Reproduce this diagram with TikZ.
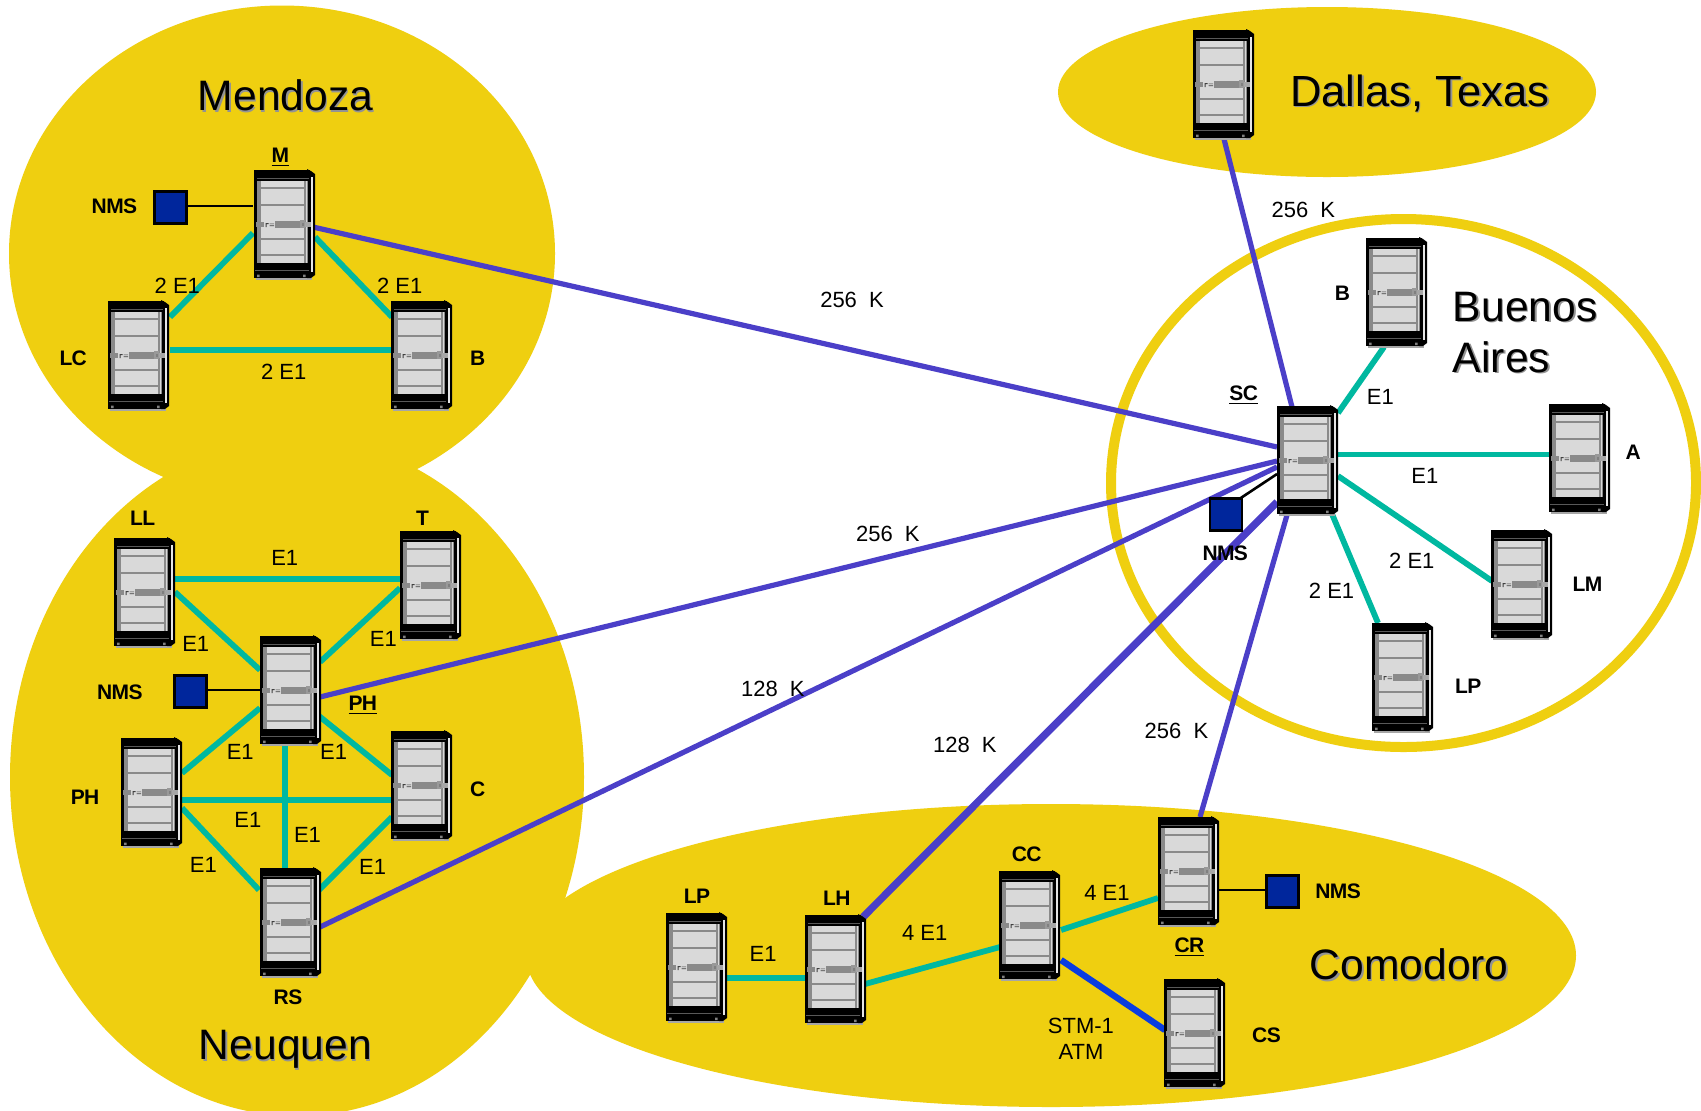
\documentclass[tikz,border=0pt]{standalone}
\usepackage{fontspec}
\setmainfont{Liberation Sans}
\newfontfamily\lblfont[LetterSpace=-3]{Liberation Sans}
\pgfdeclarelayer{ell}
\pgfdeclarelayer{lnk}
\pgfsetlayers{ell,lnk,main}
\definecolor{regionc}{HTML}{EFCF10}
\definecolor{tealc}{HTML}{00B8A0}
\definecolor{purplec}{HTML}{4B3FC8}
\definecolor{stmc}{HTML}{0A3CE0}
\definecolor{nmsc}{HTML}{00269C}
\definecolor{panelc}{HTML}{D9D9D9}
\definecolor{shelfc}{HTML}{8A8A8A}
\tikzset{
  srvbox/.style={minimum width=30pt,minimum height=55pt,inner sep=0pt,outer sep=0pt},
  nmsbox/.style={draw=black,fill=nmsc,line width=1.25pt,minimum size=16pt,inner sep=0pt,outer sep=0pt},
  e1link/.style={tealc,line width=2.9pt},
  klink/.style={purplec,line width=2.6pt},
  thicklink/.style={purplec,line width=3.7pt},
  stmlink/.style={stmc,line width=3.2pt},
  ctrl/.style={black,line width=1.3pt},
  ringc/.style={regionc,line width=5pt},
  lbl/.style={inner sep=0pt,font=\fontsize{11}{13}\selectfont,align=center},
  bold/.style={inner sep=0pt,font=\lblfont\bfseries\fontsize{10.5}{12}\selectfont},
  ttlstyle/.style={inner sep=0pt,font=\fontsize{21.3}{25.5}\selectfont,align=left},
}
% server: name, top-left x, top-left y (reference pixels)
\newcommand{\srv}[3]{%
  \node[srvbox] (#1) at (#2+30,#3+55) {};
  \begin{scope}[shift={(#2,#3)}]
    \fill[gray!70] (2,106) rectangle (58,110);
    \fill[black] (53,-1) -- (57,1) -- (61,4) -- (61,105) -- (57,108) -- (53,108) -- cycle;
    \fill[black] (0,0) rectangle (56,108);
    \fill[white!90!black] (57,7) rectangle (59.4,102);
    \fill[shelfc] (3,11) rectangle (54,93);
    \fill[panelc] (6.5,11) rectangle (50,93);
    \fill[white!70!gray] (52,11) rectangle (53,93);
    \foreach \yy in {18,35,69,85}{\fill[shelfc] (7,\yy-1.1) rectangle (50,\yy+1.1);}
    \fill[shelfc] (1.5,51.5) rectangle (10,57);
    \fill[shelfc] (21,51) rectangle (46,57.5);
    \fill[panelc] (10,50) rectangle (21,57.5);
    \fill[black!75] (11.5,53) rectangle (12.6,57) (12.6,53) rectangle (14.5,54) (15.5,53.5) rectangle (20,54.2) (15.5,55.3) rectangle (20,56);
    \fill[gray!80] (46,50) rectangle (51,58);
    \fill[gray] (47.5,53) rectangle (49.5,55.5);
    \fill[gray!70] (51,52) rectangle (57,56.5);
    \fill[gray] (3,104.5) rectangle (5.5,107) (49,104.5) rectangle (51.5,107);
    \fill[gray!70!black] (1,99.5) rectangle (55,100.3);
    \fill[gray!70!black] (3,7.5) rectangle (55,8.1);
  \end{scope}}
\newcommand{\lnkline}[5][]{\draw[#1] ([shift={(#3)}]#2.center) -- ([shift={(#5)}]#4.center);}
% label at coordinates of the 1568-wide view
\newcommand{\lab}[5][lbl]{\node[#1] (#2) at ({1.0848*#3+0.5},{1.0848*#4+1}) {#5};}
\newcommand{\ttl}[4]{%
  \node[ttlstyle,text=gray!85,anchor=base west] (#1s) at ({1.0848*#2+1.6},{1.0848*#3+1.6}) {#4};
  \node[ttlstyle,anchor=base west] (#1) at ({1.0848*#2},{1.0848*#3}) {#4};}
\begin{document}
\begin{tikzpicture}[x=0.5pt,y=-0.5pt]
\useasboundingbox (0,0) rectangle (1701,1110);
\begin{pgfonlayer}{ell}
  \fill[white] (0,0) rectangle (1701,1110);
  \fill[regionc] (282,253.5) ellipse [x radius=273,y radius=248];
  \fill[regionc] (297,777) ellipse [x radius=287,y radius=339];
  \fill[regionc] (1051,955.5) ellipse [x radius=525,y radius=151.5];
  \fill[regionc] (1327,92) ellipse [x radius=269,y radius=85];
  \draw[ringc] (1403.5,483) ellipse [x radius=292.5,y radius=264];
\end{pgfonlayer}

\srv{m}{254}{170}
\srv{lc}{108}{301}
\srv{bm}{391}{301}
\srv{ll}{114}{538}
\srv{t}{400}{531}
\srv{phc}{260}{636}
\srv{phl}{121}{738}
\srv{c}{391}{731}
\srv{rs}{260}{868}
\srv{lpc}{666}{913}
\srv{lh}{805}{915}
\srv{cc}{999}{871}
\srv{cr}{1158}{817}
\srv{cs}{1164}{979}
\srv{bb}{1366}{238}
\srv{sc}{1277}{406}
\srv{aa}{1549}{404}
\srv{lm}{1491}{530}
\srv{lpb}{1372}{623}
\srv{da}{1193}{30}

\node[nmsbox] (nmsm) at (170.5,207.5) {};
\node[nmsbox] (nmsn) at (190.5,691.5) {};
\node[nmsbox] (nmss) at (1226,514.5) {};
\node[nmsbox] (nmsc) at (1282.5,891.5) {};

\begin{pgfonlayer}{lnk}
  \lnkline[klink]{m}{29,2}{sc}{-30,-14}
  \lnkline[klink]{phc}{30,6}{sc}{-30,0}
  \lnkline[klink]{rs}{30,4}{sc}{-30,6}
  \lnkline[thicklink]{lh}{28,-53}{sc}{-30,41}
  \lnkline[klink]{cr}{12,-55}{sc}{-20,54}
  \lnkline[klink]{da}{1,54}{sc}{-15,-54}
  \lnkline[e1link]{m}{-31,8}{lc}{32,-39}
  \lnkline[e1link]{m}{31,12}{bm}{-29,-39}
  \lnkline[e1link]{lc}{32,-6}{bm}{-29,-6}
  \lnkline[e1link]{ll}{31,-14}{t}{-30,-7}
  \lnkline[e1link]{ll}{31,-1}{phc}{-30,-21}
  \lnkline[e1link]{t}{-30,2}{phc}{30,-29}
  \lnkline[e1link]{phc}{-30,17}{phl}{31,-20}
  \lnkline[e1link]{phc}{29,25}{c}{-29,-11}
  \lnkline[e1link]{phc}{-5,50}{rs}{-5,-50}
  \lnkline[e1link]{phl}{31,7}{c}{-29,14}
  \lnkline[e1link]{phl}{31,15}{rs}{-31,-33}
  \lnkline[e1link]{c}{-29,31}{rs}{29,-33}
  \lnkline[e1link]{lpc}{30,10}{lh}{-30,8}
  \lnkline[e1link]{lh}{30,14}{cc}{-29,21}
  \lnkline[e1link]{cc}{32,4}{cr}{-30,26}
  \lnkline[stmlink]{cc}{32,34}{cs}{-29,-4}
  \lnkline[e1link]{sc}{31,-48}{bb}{-12,54}
  \lnkline[e1link]{sc}{31,-6.5}{aa}{-30,-4.5}
  \lnkline[e1link]{sc}{31,15}{lm}{-29,-4}
  \lnkline[e1link]{sc}{25,53}{lpb}{-24,-55}
  \draw[ctrl] (nmsm.east |- 0,206) -- ([shift={(-31,-19)}]m.center);
  \draw[ctrl] (nmsn.east |- 0,690) -- ([shift={(-30,-1)}]phc.center);
  \draw[ctrl] ([shift={(14,-16)}]nmss.center) -- ([shift={(-30,13)}]sc.center);
  \draw[ctrl] ([shift={(31,18)}]cr.center) -- (nmsc.west |- 0,890);
\end{pgfonlayer}

\ttl{tmen}{182}{102}{Mendoza}
\ttl{tdal}{1189}{98}{\fontsize{21.8}{26}\selectfont Dallas, Texas}
\ttl{tbue}{1339}{343}{Buenos\\Aires}
\ttl{tcom}{1207}{903}{Comodoro}
\ttl{tneu}{183}{977}{Neuquen}

\lab[bold]{lm1}{258}{144}{\underline{M}}
\lab[bold]{lnms1}{105}{189}{NMS}
\lab[bold]{llc}{67}{329}{LC}
\lab[bold]{lb1}{440}{329}{B}
\lab[bold]{lll}{131}{477}{LL}
\lab[bold]{lt}{389}{477}{T}
\lab[bold]{lnms2}{110}{637}{NMS}
\lab[bold]{lph1}{334}{649}{\underline{PH}}
\lab[bold]{lph2}{78}{734}{PH}
\lab[bold]{lc1}{440}{727}{C}
\lab[bold]{lrs}{265}{918}{RS}
\lab[bold]{lsc}{1146}{363}{\underline{SC}}
\lab[bold]{lb2}{1237}{269}{B}
\lab[bold]{la}{1505}{416}{A}
\lab[bold]{llm}{1463}{538}{LM}
\lab[bold]{llp1}{1353}{632}{LP}
\lab[bold]{lnms3}{1129}{509}{NMS}
\lab[bold]{llp2}{642}{825}{LP}
\lab[bold]{llh}{771}{827}{LH}
\lab[bold]{lcc}{946}{787}{CC}
\lab[bold]{lcr}{1096}{872}{\underline{CR}}
\lab[bold]{lnms4}{1233}{821}{NMS}
\lab[bold]{lcs}{1167}{953}{CS}

\lab{e01}{163}{263}{2 E1}
\lab{e02}{368}{263}{2 E1}
\lab{e03}{261}{342}{2 E1}
\lab{k01}{785}{276}{256\ \ K}
\lab{e04}{262}{513}{E1}
\lab{e05}{180}{593}{E1}
\lab{e06}{353}{588}{E1}
\lab{e07}{221}{692}{E1}
\lab{e08}{307}{692}{E1}
\lab{e09}{228}{755}{E1}
\lab{e10}{283}{769}{E1}
\lab{e11}{187}{796}{E1}
\lab{e12}{343}{798}{E1}
\lab{k02}{818}{491}{256\ \ K}
\lab{k03}{712}{634}{128\ \ K}
\lab{k04}{889}{686}{128\ \ K}
\lab{k05}{1084}{673}{256\ \ K}
\lab{k06}{1201}{193}{256\ \ K}
\lab{e13}{1272}{365}{E1}
\lab{e14}{1313}{438}{E1}
\lab{e15}{1301}{516}{2 E1}
\lab{e16}{1227}{544}{2 E1}
\lab{e17}{703}{878}{E1}
\lab{e18}{852}{859}{4 E1}
\lab{e19}{1020}{822}{4 E1}
\lab{stm}{996}{957}{STM-1\\ATM}
\end{tikzpicture}
\end{document}
